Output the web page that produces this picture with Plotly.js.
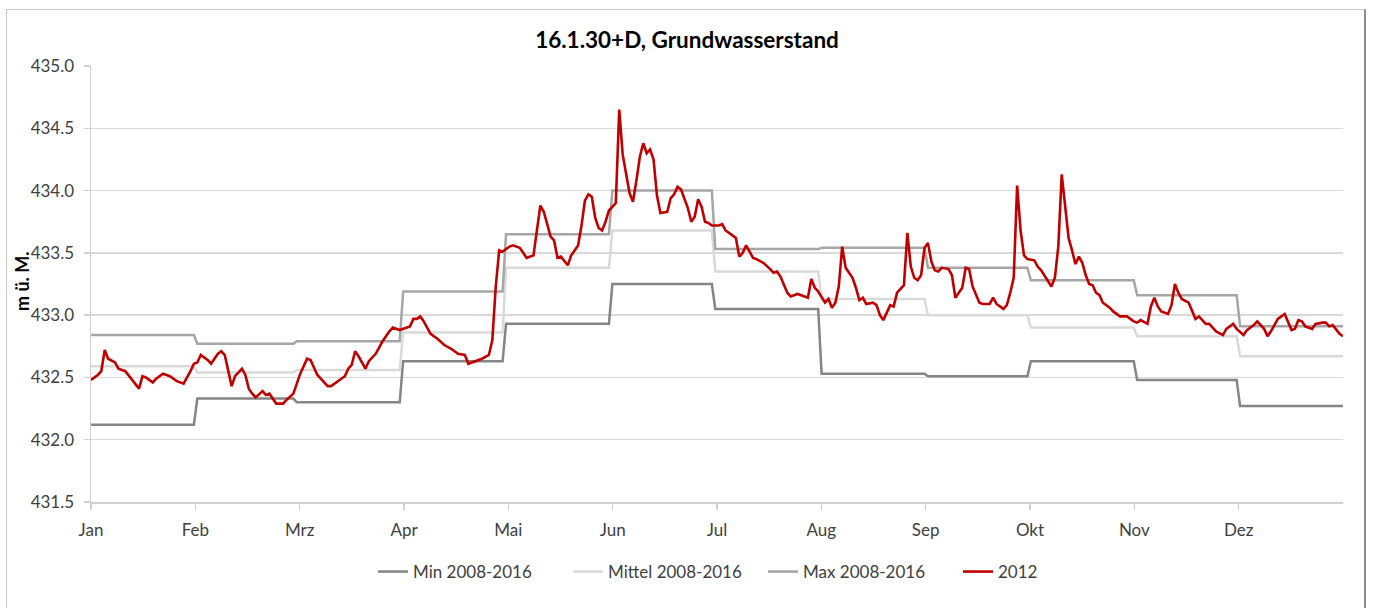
<!DOCTYPE html>
<html>
<head>
<meta charset="utf-8">
<script src="https://cdn.plot.ly/plotly-3.0.1.min.js"></script>
<style>
  html, body { margin: 0; padding: 0; background: #ffffff; }
  #wrap { position: relative; width: 1374px; height: 608px; overflow: hidden; }
  #chart { position: absolute; left: 0; top: 0; width: 1374px; height: 608px; }
  #frame { position: absolute; left: 6px; top: 9px; width: 1357px; height: 640px;
           border-top: 1px solid #c8c8c8; border-left: 1px solid #c8c8c8;
           border-right: 2px solid #8c8c8c; pointer-events: none; }
</style>
</head>
<body>
<div id="wrap">
  <div id="chart"></div>
  <div id="frame"></div>
</div>
<script>
// ---- Data ----
const months = ['Jan','Feb','Mrz','Apr','Mai','Jun','Jul','Aug','Sep','Okt','Nov','Dez'];
const monthStartDay = [0,31,60,91,121,152,182,213,244,274,305,335];
const yearEndDay = 365;

const min0816  = [432.12,432.33,432.30,432.63,432.93,433.25,433.05,432.53,432.51,432.63,432.48,432.27];
const mean0816 = [432.59,432.54,432.56,432.86,433.38,433.68,433.35,433.13,433.00,432.90,432.83,432.67];
const max0816  = [432.84,432.77,432.79,433.19,433.65,434.00,433.53,433.54,433.38,433.28,433.16,432.91];

// 2012: [day of year, level]
const level2012 = [
 [0,432.48],[2,432.52],[3,432.55],[4,432.72],[5,432.65],[7,432.62],[8,432.57],[10,432.55],[12,432.48],[14,432.41],
 [15,432.51],[16,432.50],[18,432.46],[19,432.49],[21,432.53],[23,432.51],[25,432.47],[27,432.45],[29,432.55],[30,432.61],
 [31,432.62],[32,432.68],[34,432.64],[35,432.61],[37,432.69],[38,432.71],[39,432.68],[40,432.55],[41,432.43],[42,432.51],
 [44,432.57],[45,432.52],[46,432.41],[47,432.37],[48,432.34],[50,432.39],[51,432.36],[52,432.37],[53,432.33],[54,432.29],
 [56,432.29],[57,432.32],[59,432.37],
 [61,432.53],[63,432.65],[64,432.64],[66,432.52],[67,432.49],[69,432.43],[70,432.43],[72,432.47],[74,432.51],[75,432.57],
 [76,432.60],[77,432.71],[78,432.67],[80,432.57],[81,432.63],[83,432.69],[85,432.79],[87,432.87],[88,432.90],[90,432.88],
 [91,432.89],[93,432.91],[94,432.97],[95,432.97],[96,432.99],[97,432.95],[99,432.85],[101,432.81],[103,432.76],[105,432.73],
 [107,432.69],[109,432.68],[110,432.61],[112,432.63],[114,432.65],[116,432.68],[117,432.80],[118,433.23],[119,433.52],[120,433.51],
 [122,433.55],
 [123,433.56],[125,433.54],[126,433.50],[127,433.46],[129,433.48],[130,433.67],[131,433.88],[132,433.83],[134,433.63],[135,433.60],
 [136,433.46],[137,433.47],[139,433.40],[140,433.48],[142,433.56],[143,433.72],[144,433.92],[145,433.97],[146,433.95],[147,433.78],
 [148,433.70],[149,433.68],[150,433.75],[151,433.84],[153,433.90],[154,434.65],[155,434.29],[157,433.98],[158,433.91],[159,434.08],
 [160,434.27],[161,434.38],[162,434.30],[163,434.33],[164,434.25],[165,433.96],[166,433.82],[168,433.83],[169,433.94],[170,433.97],
 [171,434.03],[172,434.01],[174,433.86],[175,433.75],[176,433.79],[177,433.93],[178,433.87],[179,433.75],[180,433.74],[181,433.72],
 [183,433.72],
 [184,433.73],[185,433.68],[187,433.64],[188,433.62],[189,433.47],[190,433.50],[191,433.56],[193,433.46],[194,433.45],[196,433.42],
 [198,433.37],[199,433.34],[200,433.35],[201,433.31],[203,433.18],[204,433.15],[206,433.17],[208,433.15],[209,433.14],[210,433.29],
 [211,433.22],[212,433.19],[213,433.14],[214,433.10],[215,433.13],[216,433.06],[217,433.10],[218,433.23],[219,433.55],[220,433.38],
 [221,433.34],[222,433.30],[223,433.22],[224,433.12],[225,433.14],[226,433.09],[228,433.10],[229,433.08],[230,433.00],[231,432.96],
 [232,433.02],[233,433.08],[234,433.07],[235,433.18],[237,433.24],[238,433.66],[239,433.39],[240,433.30],[241,433.28],[242,433.32],
 [243,433.54],[244,433.58],[245,433.43],
 [246,433.36],[247,433.35],[248,433.38],[250,433.37],[251,433.32],[252,433.14],[253,433.18],[254,433.22],[255,433.38],[256,433.37],
 [257,433.23],[259,433.10],[260,433.09],[262,433.09],[263,433.14],[264,433.09],[266,433.05],[267,433.08],[268,433.18],[269,433.30],
 [270,434.04],[271,433.68],[272,433.48],[273,433.45],[275,433.44],[276,433.39],[277,433.36],[278,433.32],[280,433.23],[281,433.30],
 [282,433.55],[283,434.13],[284,433.90],[285,433.62],[286,433.52],[287,433.41],[288,433.47],[289,433.42],[290,433.32],[291,433.25],
 [292,433.24],[293,433.18],[294,433.16],[295,433.10],[297,433.06],[298,433.03],[300,432.99],[302,432.99],[303,432.97],[304,432.95],
 [305,432.94],[306,432.96],[308,432.93],[309,433.07],[310,433.14],[311,433.07],[312,433.03],[314,433.01],[315,433.08],[316,433.25],
 [317,433.18],[318,433.13],[320,433.10],[321,433.03],[322,432.97],[323,432.99],[325,432.93],[326,432.93],[327,432.90],[328,432.87],
 [330,432.84],[331,432.89],[333,432.93],[334,432.89],[336,432.84],[337,432.88],[339,432.92],[340,432.95],[342,432.89],[343,432.83],
 [344,432.87],[346,432.97],[348,433.01],[349,432.95],[350,432.88],[351,432.89],[352,432.96],[353,432.95],[354,432.91],[356,432.89],
 [357,432.93],[359,432.94],[360,432.94],[361,432.91],[362,432.92],[364,432.85],[365,432.83]
];

// ---- Build step series from monthly values ----
function monthlySteps(vals) {
  const xs = [], ys = [];
  for (let m = 0; m < vals.length; m++) {
    const s = monthStartDay[m];
    const e = (m + 1 < monthStartDay.length) ? monthStartDay[m + 1] - 1 : yearEndDay;
    xs.push(s, e); ys.push(vals[m], vals[m]);
  }
  return {x: xs, y: ys};
}
const sMin = monthlySteps(min0816), sMean = monthlySteps(mean0816), sMax = monthlySteps(max0816);

const traces = [
  {name: 'Min 2008-2016', x: sMin.x, y: sMin.y, mode: 'lines', line: {color: '#858585', width: 2.5}},
  {name: 'Mittel 2008-2016', x: sMean.x, y: sMean.y, mode: 'lines', line: {color: '#d9d9d9', width: 2.5}},
  {name: 'Max 2008-2016', x: sMax.x, y: sMax.y, mode: 'lines', line: {color: '#a6a6a6', width: 2.5}},
  {name: '2012', x: level2012.map(p => p[0]), y: level2012.map(p => p[1]), mode: 'lines',
   line: {color: '#c00000', width: 2.6}}
];

const tickPos = months.map((m, i) => i * yearEndDay / 12);
const FONT = 'Lato, "Open Sans", sans-serif';

const layout = {
  width: 1374, height: 608,
  margin: {l: 91, r: 31, t: 66, b: 106},
  paper_bgcolor: '#ffffff', plot_bgcolor: '#ffffff',
  font: {family: FONT, size: 17, color: '#404040'},
  title: {text: '<b>16.1.30+D, Grundwasserstand</b>', font: {family: FONT, size: 22.5, color: '#000000'},
          x: 0.5, xanchor: 'center', yref: 'container', y: 1 - 40/608, yanchor: 'middle'},
  showlegend: true,
  legend: {orientation: 'h', xref: 'paper', x: (373 - 91) / 1252, xanchor: 'left',
           yref: 'container', y: 1 - 572/608, yanchor: 'middle',
           entrywidth: 150, entrywidthmode: 'pixels', itemwidth: 30,
           font: {family: FONT, size: 17, color: '#404040'}, traceorder: 'normal'},
  xaxis: {range: [0, yearEndDay], tickvals: tickPos, ticktext: months,
          showgrid: false, zeroline: false, showline: true, linecolor: '#d0d0d0', linewidth: 1.5,
          ticks: 'outside', ticklen: 6, tickcolor: '#d0d0d0', tickwidth: 1.5,
          ticklabelstandoff: 6, fixedrange: true},
  yaxis: {range: [431.5, 435.0], dtick: 0.5, tick0: 431.5, tickformat: '.1f',
          showgrid: true, gridcolor: '#d9d9d9', gridwidth: 1.5, zeroline: false,
          showline: true, linecolor: '#d0d0d0', linewidth: 1.5,
          ticks: 'outside', ticklen: 6, tickcolor: '#d0d0d0', tickwidth: 1.5,
          ticklabelstandoff: 6, fixedrange: true},
  annotations: [{text: '<b>m ü. M.</b>', xref: 'paper', yref: 'paper',
                 x: (22 - 91) / 1252, y: (502 - 281) / 436, xanchor: 'center', yanchor: 'middle',
                 textangle: -90, showarrow: false, font: {family: FONT, size: 18, color: '#000000'}}],
  hovermode: false
};

Plotly.newPlot('chart', traces, layout, {displayModeBar: false, staticPlot: true});
</script>
</body>
</html>
